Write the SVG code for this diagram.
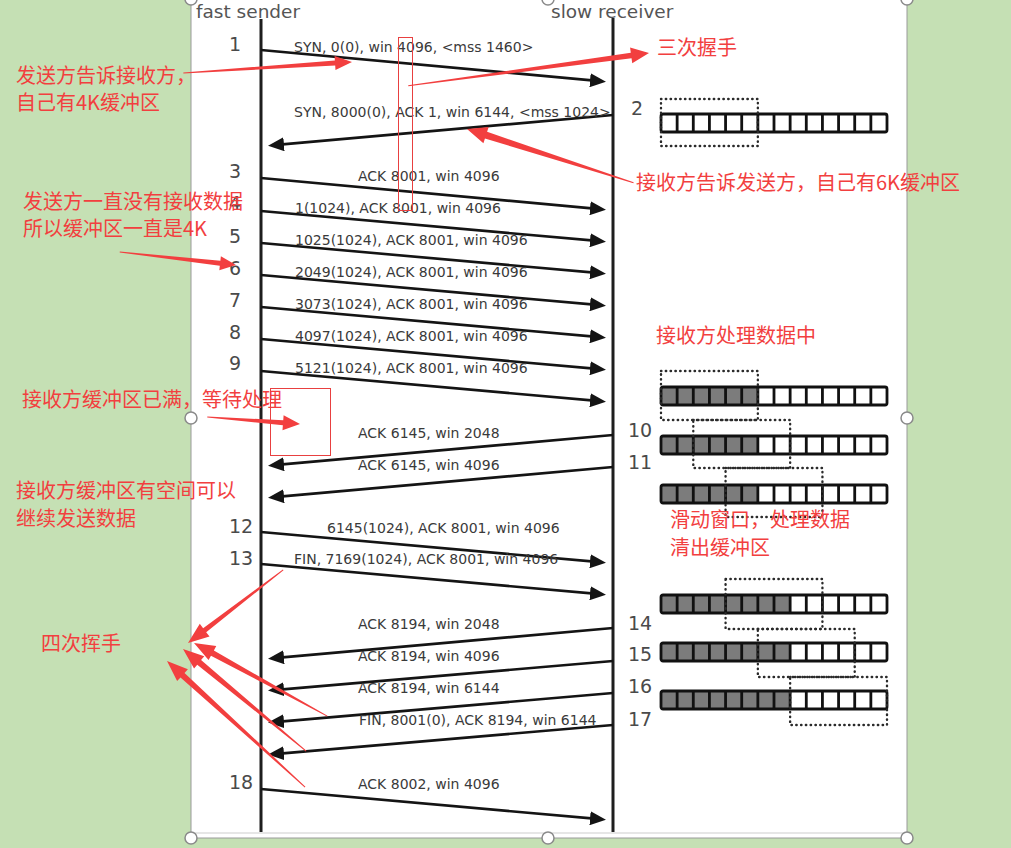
<svg xmlns="http://www.w3.org/2000/svg" xmlns:xlink="http://www.w3.org/1999/xlink" width="1011" height="848" viewBox="0 0 1011 848">
<style>
.lbl{font-family:"DejaVu Sans",sans-serif;font-size:14px;fill:#3a3a3a}
.num{font-family:"DejaVu Sans",sans-serif;font-size:19px;fill:#4a4a4a}
.head{font-family:"DejaVu Sans",sans-serif;font-size:18.5px;fill:#555}
.red{font-family:"Noto Sans CJK SC","Microsoft YaHei",sans-serif;font-size:20px;fill:#f23f3f}
.msg{stroke:#141414;stroke-width:2.6;fill:none;marker-end:url(#ah)}
.life{stroke:#1e1e1e;stroke-width:3}
.win{fill:none;stroke:#2a2a2a;stroke-width:2.4;stroke-dasharray:0.4,4.4;stroke-linecap:round}
.dark{fill:#7c7c7c}
.ann{fill:#f23f3f}
.box{fill:none;stroke:#e84040;stroke-width:1}
.hdl{fill:#fff;stroke:#8a8a8a;stroke-width:1.5}
</style>
<defs>
<marker id="ah" markerUnits="userSpaceOnUse" markerWidth="16" markerHeight="14" refX="10" refY="7" orient="auto">
<path d="M0,0 L16,7 L0,14 z" fill="#141414"/>
</marker>
<g id="grid">
<rect x="0" y="0" width="226" height="18" rx="2" fill="none" stroke="#111" stroke-width="2.8"/>
<path d="M16.14,0v18M32.29,0v18M48.43,0v18M64.57,0v18M80.71,0v18M96.86,0v18M113,0v18M129.14,0v18M145.29,0v18M161.43,0v18M177.57,0v18M193.71,0v18M209.86,0v18" stroke="#111" stroke-width="2.8"/>
</g>
</defs>

<g id="background">
<rect x="0" y="0" width="1011" height="848" fill="#c5e0b4"/>
<rect x="191" y="-3" width="716" height="841" fill="#fff" stroke="#9a9a9a" stroke-width="1"/>
<line x1="192" y1="833" x2="906" y2="833" stroke="#e6e6e6" stroke-width="2"/>
</g>

<g id="sender">
<text class="head" x="196" y="18">fast sender</text>
<line class="life" x1="261" y1="19" x2="261" y2="832"/>
</g>
<g id="receiver">
<text class="head" x="551" y="18">slow receiver</text>
<line class="life" x1="613" y1="18" x2="613" y2="832"/>
</g>

<g id="connectors">
<line class="msg" x1="261" y1="50" x2="600" y2="81.1"/>
<line class="msg" x1="613" y1="115" x2="274" y2="145.1"/>
<line class="msg" x1="261" y1="178" x2="600" y2="209.1"/>
<line class="msg" x1="261" y1="211" x2="600" y2="241.1"/>
<line class="msg" x1="261" y1="243" x2="600" y2="273.1"/>
<line class="msg" x1="261" y1="275" x2="600" y2="305.1"/>
<line class="msg" x1="261" y1="307" x2="600" y2="337.1"/>
<line class="msg" x1="261" y1="339" x2="600" y2="369.1"/>
<line class="msg" x1="261" y1="371" x2="600" y2="401.1"/>
<line class="msg" x1="613" y1="435" x2="274" y2="465.1"/>
<line class="msg" x1="613" y1="467" x2="274" y2="497.1"/>
<line class="msg" x1="261" y1="532" x2="600" y2="562.1"/>
<line class="msg" x1="261" y1="564" x2="600" y2="594.1"/>
<line class="msg" x1="613" y1="628" x2="274" y2="658.1"/>
<line class="msg" x1="613" y1="661" x2="274" y2="690.1"/>
<line class="msg" x1="613" y1="693" x2="274" y2="722.1"/>
<line class="msg" x1="613" y1="725" x2="274" y2="754.1"/>
<line class="msg" x1="261" y1="789" x2="600" y2="819.1"/>
</g>

<g id="message-labels">
<text class="lbl" x="294" y="52">SYN, 0(0), win 4096, &lt;mss 1460&gt;</text>
<text class="lbl" x="294" y="117">SYN, 8000(0), ACK 1, win 6144, &lt;mss 1024&gt;</text>
<text class="lbl" x="358" y="181">ACK 8001, win 4096</text>
<text class="lbl" x="295" y="213">1(1024), ACK 8001, win 4096</text>
<text class="lbl" x="295" y="245">1025(1024), ACK 8001, win 4096</text>
<text class="lbl" x="295" y="277">2049(1024), ACK 8001, win 4096</text>
<text class="lbl" x="295" y="309">3073(1024), ACK 8001, win 4096</text>
<text class="lbl" x="295" y="341">4097(1024), ACK 8001, win 4096</text>
<text class="lbl" x="295" y="373">5121(1024), ACK 8001, win 4096</text>
<text class="lbl" x="358" y="438">ACK 6145, win 2048</text>
<text class="lbl" x="358" y="470">ACK 6145, win 4096</text>
<text class="lbl" x="327" y="533">6145(1024), ACK 8001, win 4096</text>
<text class="lbl" x="294" y="564">FIN, 7169(1024), ACK 8001, win 4096</text>
<text class="lbl" x="358" y="629">ACK 8194, win 2048</text>
<text class="lbl" x="358" y="661">ACK 8194, win 4096</text>
<text class="lbl" x="358" y="693">ACK 8194, win 6144</text>
<text class="lbl" x="359" y="725">FIN, 8001(0), ACK 8194, win 6144</text>
<text class="lbl" x="358" y="789">ACK 8002, win 4096</text>
</g>

<g id="step-numbers">
<text class="num" x="229" y="51">1</text>
<text class="num" x="631" y="115">2</text>
<text class="num" x="229" y="178">3</text>
<text class="num" x="229" y="210">4</text>
<text class="num" x="229" y="243">5</text>
<text class="num" x="229" y="275">6</text>
<text class="num" x="229" y="307">7</text>
<text class="num" x="229" y="339">8</text>
<text class="num" x="229" y="370">9</text>
<text class="num" x="628" y="437">10</text>
<text class="num" x="628" y="469">11</text>
<text class="num" x="229" y="533">12</text>
<text class="num" x="229" y="565">13</text>
<text class="num" x="628" y="630">14</text>
<text class="num" x="628" y="661">15</text>
<text class="num" x="628" y="693">16</text>
<text class="num" x="628" y="726">17</text>
<text class="num" x="229" y="789">18</text>
</g>

<g id="buffer-2" transform="translate(661,114)">
<rect width="226" height="18" fill="#fff"/>
<use xlink:href="#grid" href="#grid"/>
<rect class="win" x="0" y="-15" width="96.86" height="47"/>
</g>
<g id="buffer-a" transform="translate(661,387)">
<rect width="226" height="18" fill="#fff"/>
<rect class="dark" width="96.86" height="18"/>
<use xlink:href="#grid" href="#grid"/>
<rect class="win" x="0" y="-16" width="96.86" height="49"/>
</g>
<g id="buffer-10" transform="translate(661,436)">
<rect width="226" height="18" fill="#fff"/>
<rect class="dark" width="96.86" height="18"/>
<use xlink:href="#grid" href="#grid"/>
<rect class="win" x="32.29" y="-16" width="96.86" height="48"/>
</g>
<g id="buffer-11" transform="translate(661,485)">
<rect width="226" height="18" fill="#fff"/>
<rect class="dark" width="96.86" height="18"/>
<use xlink:href="#grid" href="#grid"/>
<rect class="win" x="64.57" y="-17" width="96.86" height="49"/>
</g>
<g id="buffer-14" transform="translate(661,595)">
<rect width="226" height="18" fill="#fff"/>
<rect class="dark" width="129.14" height="18"/>
<use xlink:href="#grid" href="#grid"/>
<rect class="win" x="64.57" y="-16" width="96.86" height="50"/>
</g>
<g id="buffer-15" transform="translate(661,643)">
<rect width="226" height="18" fill="#fff"/>
<rect class="dark" width="129.14" height="18"/>
<use xlink:href="#grid" href="#grid"/>
<rect class="win" x="96.86" y="-14" width="96.86" height="48"/>
</g>
<g id="buffer-16" transform="translate(661,691)">
<rect width="226" height="18" fill="#fff"/>
<rect class="dark" width="129.14" height="18"/>
<use xlink:href="#grid" href="#grid"/>
<rect class="win" x="129.14" y="-14" width="96.86" height="48"/>
</g>

<g id="annotation-boxes">
<rect class="box" x="398.5" y="37.5" width="14" height="173"/>
<rect class="box" x="270.5" y="388.5" width="60" height="67"/>
</g>

<g id="annotation-arrows">
<polygon class="ann" transform="translate(352,62) rotate(-3.72)" points="0,0 -17,-7 -17,-2.5 -169,-0.5 -169,0.5 -17,2.5 -17,7"/>
<polygon class="ann" transform="translate(649,53) rotate(-7.77)" points="0,0 -18,-8 -18,-2.8 -243,-0.5 -243,0.5 -18,2.8 -18,8"/>
<polygon class="ann" transform="translate(467,129) rotate(-162.08)" points="0,0 -20,-8.5 -20,-3.5 -175,-0.5 -175,0.5 -20,3.5 -20,8.5"/>
<polygon class="ann" transform="translate(236,265) rotate(6.39)" points="0,0 -16,-7 -16,-2.5 -117,-0.5 -117,0.5 -16,2.5 -16,7"/>
<polygon class="ann" transform="translate(300,424) rotate(4.3)" points="0,0 -17,-7.5 -17,-2.5 -93,-0.5 -93,0.5 -17,2.5 -17,7.5"/>
<polygon class="ann" transform="translate(188,643) rotate(142.5)" points="0,0 -21,-8 -21,-2.5 -120,-0.5 -120,0.5 -21,2.5 -21,8"/>
<polygon class="ann" transform="translate(194,643) rotate(-151.24)" points="0,0 -21,-8 -21,-3 -152,-0.5 -152,0.5 -21,3 -21,8"/>
<polygon class="ann" transform="translate(183,649) rotate(-140.33)" points="0,0 -21,-8 -21,-3 -160,-0.5 -160,0.5 -21,3 -21,8"/>
<polygon class="ann" transform="translate(167,661) rotate(-137.6)" points="0,0 -21,-8 -21,-3 -187,-0.5 -187,0.5 -21,3 -21,8"/>
</g>

<g id="annotation-texts">
<text class="red" x="16" y="83">发送方告诉接收方，</text>
<text class="red" x="16" y="110">自己有4K缓冲区</text>
<text class="red" x="657" y="55">三次握手</text>
<text class="red" x="636" y="190">接收方告诉发送方，自己有6K缓冲区</text>
<text class="red" x="23" y="209">发送方一直没有接收数据</text>
<text class="red" x="23" y="236">所以缓冲区一直是4K</text>
<text class="red" x="656" y="343">接收方处理数据中</text>
<text class="red" x="22" y="407">接收方缓冲区已满，等待处理</text>
<text class="red" x="16" y="498">接收方缓冲区有空间可以</text>
<text class="red" x="16" y="526">继续发送数据</text>
<text class="red" x="670" y="527">滑动窗口，处理数据</text>
<text class="red" x="670" y="555">清出缓冲区</text>
<text class="red" x="41" y="651">四次挥手</text>
</g>

<g id="handles">
<circle class="hdl" cx="191" cy="-1" r="6"/>
<circle class="hdl" cx="548" cy="-1" r="6"/>
<circle class="hdl" cx="907" cy="-1" r="6"/>
<circle class="hdl" cx="191" cy="418" r="6"/>
<circle class="hdl" cx="907" cy="418" r="6"/>
<circle class="hdl" cx="191" cy="838" r="6"/>
<circle class="hdl" cx="548" cy="838" r="6"/>
<circle class="hdl" cx="907" cy="838" r="6"/>
</g>
</svg>
